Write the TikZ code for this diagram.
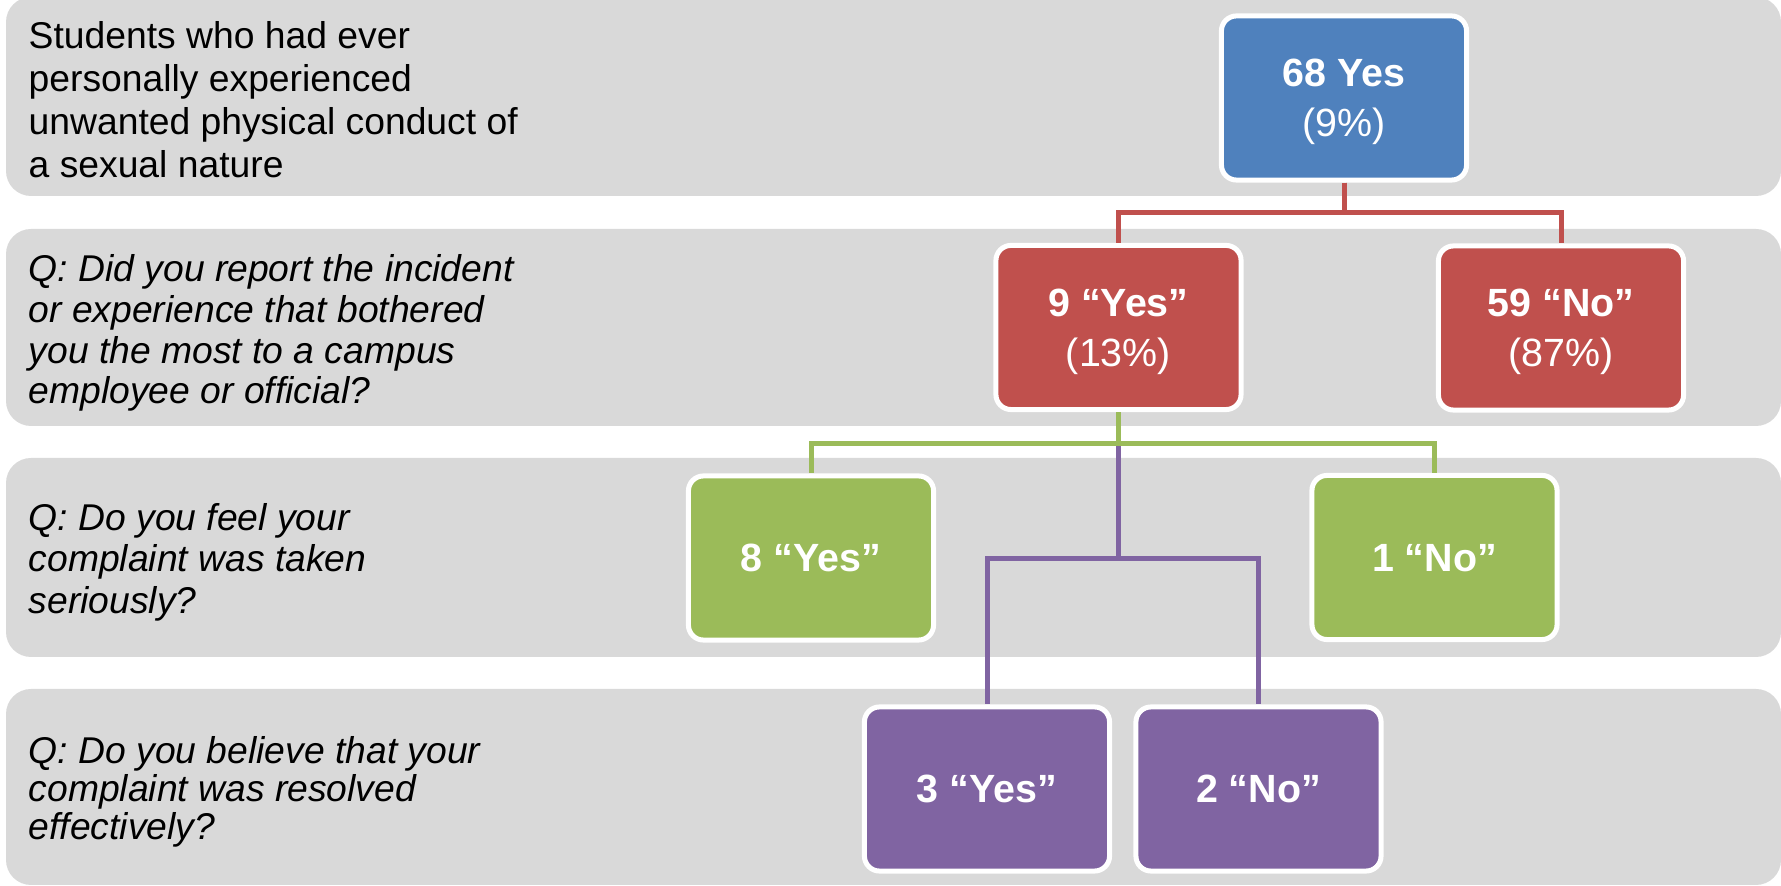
\documentclass[tikz,border=0pt]{standalone}
\usepackage{fontspec}
\setmainfont{Liberation Sans}
\definecolor{bandgray}{HTML}{D9D9D9}
\definecolor{boxblue}{HTML}{4F81BD}
\definecolor{boxred}{HTML}{C0504D}
\definecolor{boxgreen}{HTML}{9BBB59}
\definecolor{boxpurple}{HTML}{8064A2}
\begin{document}
\begin{tikzpicture}[x=0.01cm,y=-0.01cm,
		answer/.style={draw=white,line width=0.05cm,rounded corners=0.15cm,minimum width=2.45cm,minimum height=1.64cm,inner sep=0pt,text depth=0pt,align=center,text=white,font=\fontsize{11.2}{14.3}\selectfont},
		question/.style={anchor=west,align=left,inner sep=0pt,font=\fontsize{10.6}{12.2}\selectfont},
		qitalic/.style={anchor=west,align=left,inner sep=0pt,font=\fontsize{10.6}{#1}\selectfont\itshape},
		link/.style={line width=0.05cm}]
	\useasboundingbox (0,0) rectangle (1781,886);
	
	\foreach \ya/\yb in {-3/196,229/426,458/657,689/885}{
		\fill[bandgray,rounded corners=0.25cm] (6,\ya) rectangle (1781,\yb);
	}
	
	\node[question] (qexp) at (28,100) {Students who had ever\\personally experienced\\unwanted physical conduct of\\a sexual nature};
	\node[qitalic=11.6] (qreport) at (28,333) {Q: Did you report the incident\\or experience that bothered\\you the most to a campus\\employee or official?};
	\node[qitalic=11.8] (qserious) at (28,562) {Q: Do you feel your\\complaint was taken\\seriously?};
	\node[qitalic=10.9] (qresolved) at (28,792) {Q: Do you believe that your\\complaint was resolved\\effectively?};
	
	\node[answer,fill=boxblue] (total) at (1344,98) {\textbf{68 Yes}\\(9\%)};
	\node[answer,fill=boxred] (repyes) at (1118.5,327.5) {\textbf{9 ``Yes''}\\(13\%)};
	\node[answer,fill=boxred] (repno) at (1561,328) {\textbf{59 ``No''}\\(87\%)};
	\node[answer,fill=boxgreen] (seryes) at (811,558) {\textbf{8 ``Yes''}};
	\node[answer,fill=boxgreen] (serno) at (1434.5,557.5) {\textbf{1 ``No''}};
	\node[answer,fill=boxpurple] (resyes) at (987,789) {\textbf{3 ``Yes''}};
	\node[answer,fill=boxpurple] (resno) at (1258.5,789) {\textbf{2 ``No''}};
	
	\draw[link,boxred] (total.south) -- ++(0,30) -| (repyes.north);
	\draw[link,boxred] (total.south) -- ++(0,30) -| (repno.north);
	\draw[link,boxpurple] (repyes.south) -- ++(0,146) -| (resyes.north);
	\draw[link,boxpurple] (repyes.south) -- ++(0,146) -| (resno.north);
	\draw[link,boxgreen] (repyes.south) -- ++(0,31) -| (seryes.north);
	\draw[link,boxgreen] (repyes.south) -- ++(0,31) -| (serno.north);
\end{tikzpicture}
\end{document}
